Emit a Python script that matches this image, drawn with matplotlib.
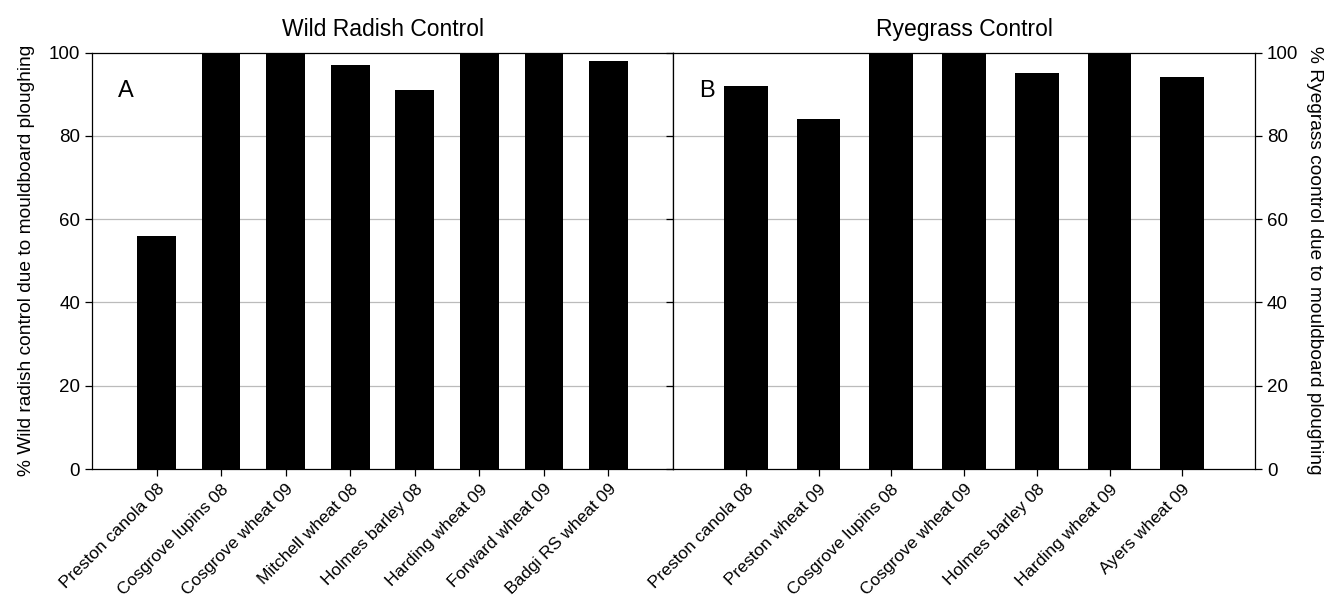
import matplotlib
matplotlib.use("Agg")
import matplotlib.pyplot as plt
from matplotlib import font_manager

plt.rcParams['font.family'] = ['Liberation Sans', 'DejaVu Sans']
names = {f.name for f in font_manager.fontManager.ttflist}
narrow = 'Liberation Sans Narrow' if 'Liberation Sans Narrow' in names else 'Liberation Sans'

radish_sites = ["Preston canola 08", "Cosgrove lupins 08", "Cosgrove wheat 09",
                "Mitchell wheat 08", "Holmes barley 08", "Harding wheat 09",
                "Forward wheat 09", "Badgi RS wheat 09"]
radish_values = [56, 100, 100, 97, 91, 100, 100, 98]

rye_sites = ["Preston canola 08", "Preston wheat 09", "Cosgrove lupins 08",
             "Cosgrove wheat 09", "Holmes barley 08", "Harding wheat 09",
             "Ayers wheat 09"]
rye_values = [92, 84, 100, 100, 95, 100, 94]

yticks = [0, 20, 40, 60, 80, 100]

fig = plt.figure(figsize=(13.29, 5.98), dpi=100)
x0, xm, x1 = 92 / 1329, 673 / 1329, 1255 / 1329
y0, y1 = 1 - 469 / 598, 1 - 52.5 / 598
axA = fig.add_axes([x0, y0, xm - x0, y1 - y0])
axB = fig.add_axes([xm, y0, x1 - xm, y1 - y0])

def style(ax, sites, values, letter, title):
    pos = list(range(1, len(sites) + 1))
    ax.bar(pos, values, width=0.6, color='black', zorder=3)
    ax.set_xlim(0, len(sites) + 1)
    ax.set_ylim(0, 100)
    ax.set_yticks(yticks)
    ax.set_xticks(pos)
    ax.set_xticklabels(sites, rotation=45, ha='right', rotation_mode='anchor',
                       fontsize=12.5)
    for lab in ax.get_yticklabels():
        lab.set_fontfamily(narrow)
        lab.set_fontsize(13.5)
    for g in [20, 40, 60, 80]:
        ax.axhline(g, color='#bbbbbb', lw=0.9, zorder=1)
    for s in ax.spines.values():
        s.set_linewidth(0.9)
    ax.tick_params(axis='x', direction='out', length=5, width=0.9, pad=4)
    ax.tick_params(axis='y', direction='out', length=5, width=0.9)
    ax.text(0.045, 0.935, letter, transform=ax.transAxes, fontsize=17,
            va='top', ha='left')
    ax.set_title(title, fontsize=16.5, pad=12)

style(axA, radish_sites, radish_values, "A", "Wild Radish Control")
style(axB, rye_sites, rye_values, "B", "Ryegrass Control")

axA.set_ylabel("% Wild radish control due to mouldboard ploughing", fontsize=13.8,
               labelpad=10)
axB.yaxis.tick_right()
axB.tick_params(axis='y', left=True, right=True, labelleft=False, labelright=True)
for lab in axB.get_yticklabels():
    lab.set_fontfamily(narrow)
    lab.set_fontsize(13.5)
axB.yaxis.set_label_position('right')
axB.set_ylabel("% Ryegrass coontrol due to mouldboard ploughing", fontsize=13.8,
               rotation=-90, labelpad=18)

fig.savefig("out.png", dpi=100)
